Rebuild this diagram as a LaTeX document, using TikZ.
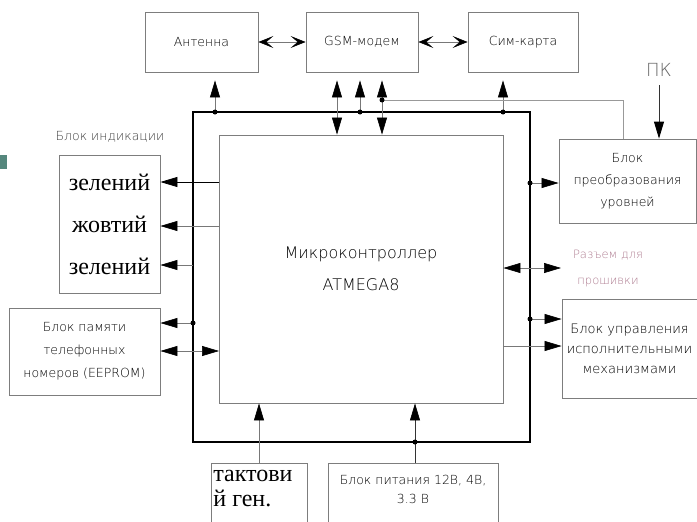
\documentclass[tikz,border=0pt]{standalone}
\usepackage{fontspec}
\setmainfont{DejaVu Sans}
\newfontfamily\gost{DejaVu Sans ExtraLight}
\newfontfamily\serifcyr{Liberation Serif}
\usetikzlibrary{arrows.meta,calc}
\definecolor{boxgray}{RGB}{125,125,125}
\definecolor{linegray}{RGB}{120,120,120}
\definecolor{mauve}{RGB}{175,125,145}
\definecolor{teal}{RGB}{85,135,125}
\begin{document}
\begin{tikzpicture}[x=1pt,y=-1pt,
  blk/.style={draw=boxgray, line width=0.8pt, inner sep=0pt, align=center,
    font=\gost\fontsize{12.5}{22}\selectfont, text=black},
  ln/.style={draw=linegray, line width=0.6pt},
  arr/.style={ln, -{Triangle[length=17pt,width=10pt,color=black]}},
  darr/.style={ln, {Triangle[length=17pt,width=10pt,color=black]}-{Triangle[length=17pt,width=10pt,color=black]}},
  chev/.style={ln, {Stealth[length=15pt,width=12pt,inset=7pt,color=black]}-{Stealth[length=15pt,width=12pt,inset=7pt,color=black]}},
  jdot/.style={circle, fill=black, inner sep=0pt, minimum size=5pt},
  bus/.style={draw=black, line width=2.2pt},
  gap/.style={shorten >=8pt}
]
\useasboundingbox (0,0) rectangle (697,522);
\clip (0,0) rectangle (697,522);
\fill[white] (0,0) rectangle (697,522);

% bus
\coordinate (bTL) at (193,112);
\coordinate (bBR) at (530,442);
\draw[bus] (bTL) rectangle (bBR);

% blocks
\node[blk, minimum width=113pt, minimum height=60pt] (ant) at (201.5,42) {Антенна};
\node[blk, minimum width=112pt, minimum height=60pt] (gsm) at (362,42) {GSM-модем};
\node[blk, minimum width=110pt, minimum height=60pt] (sim) at (523,42) {Сим-карта};
\node[blk, minimum width=284pt, minimum height=268pt, font=\gost\fontsize{16}{32}\selectfont] (mc) at (361,269) {Микроконтроллер\\ATMEGA8};
\node[blk, minimum width=137pt, minimum height=84pt] (preob) at (627.5,181) {Блок\\преобразования\\уровней};
\node[blk, minimum width=135pt, minimum height=99pt, font=\gost\fontsize{13}{20}\selectfont] (upr) at (629.5,348.5) {Блок управления\\исполнительными\\механизмами};
\node[blk, minimum width=101pt, minimum height=138pt, font=\serifcyr\fontsize{24}{42}\selectfont, text=black] (ind) at (109.5,224) {зелений\\жовтий\\зелений};
\node[blk, minimum width=151pt, minimum height=87pt, font=\gost\fontsize{12.5}{23}\selectfont] (mem) at (84.5,351.5) {Блок памяти\\телефонных\\номеров (EEPROM)};
\node[blk, minimum width=96pt, minimum height=80pt] (takt) at (259,503) {};
\node[font=\serifcyr\fontsize{24}{25}\selectfont, align=left, inner sep=0pt] (taktT) at (253,489) {тактови\\й ген.};
\node[blk, minimum width=170pt, minimum height=80pt] (pit) at (413,503) {};
\node[font=\gost\fontsize{12.5}{19}\selectfont, align=center, inner sep=0pt, text=black] (pitT) at (413,489) {Блок питания 12В, 4В,\\3.3 В};

% labels
\node[font=\gost\fontsize{12.5}{14}\selectfont, text=black!75] (indl) at (110,137) {Блок индикации};
\node[font=\gost\fontsize{18}{18}\selectfont, text=black!60] (pk) at (659,70) {ПК};
\node[font=\gost\fontsize{11.5}{26}\selectfont, text=mauve, align=center] (rz) at (608,269) {Разъем для\\прошивки};

% teal mark
\fill[teal] (0,155) rectangle (7,169);

% top connections
\draw[chev] (ant) -- (gsm);
\draw[chev] (gsm) -- (sim);

\coordinate (dA) at (215,112);
\coordinate (g1) at (337,112);
\coordinate (dG) at (360,112);
\coordinate (g3) at (382,112);
\coordinate (dL) at (382,100);
\coordinate (dS) at (503,112);
\coordinate (pX) at (623,100);

\draw[arr,gap] (dA) -- (dA |- ant.south);
\draw[darr,gap] (g1 |- mc.north) -- (g1 |- gsm.south);
\draw[arr,gap] (dG) -- (dG |- gsm.south);
\draw[darr,gap] (g3 |- mc.north) -- (g3 |- gsm.south);
\draw[arr,gap] (dS) -- (dS |- sim.south);
\draw[ln, draw=black!40] (dL) -- (pX) -- (pX |- preob.north);

% right side
\coordinate (pkX) at (659,85);
\draw[arr, line width=0.9pt, draw=black!80] (pkX) -- (pkX |- preob.north);
\coordinate (dP) at (530,183);
\draw[arr] (dP) -- (dP -| preob.west);
\coordinate (rzA) at (561,268);
\draw[darr] (mc.east |- rzA) -- (rzA);
\coordinate (dU) at (530,319);
\draw[arr] (dU) -- (dU -| upr.west);
\coordinate (u2) at (503,346);
\draw[arr] (u2) -- (u2 -| upr.west);

% left side
\coordinate (i1) at (219,182);
\coordinate (i2) at (219,226);
\coordinate (i3) at (193,265);
\draw[arr, draw=black, line width=0.8pt] (i1) -- (i1 -| ind.east);
\draw[arr] (i2) -- (i2 -| ind.east);
\draw[arr] (i3) -- (i3 -| ind.east);
\coordinate (dM) at (193,323);
\draw[arr] (dM) -- (dM -| mem.east);
\coordinate (m2) at (219,351);
\draw[darr] (m2 -| mem.east) -- (m2);

% bottom
\draw[arr] (takt.north) -- (takt.north |- mc.south);
\coordinate (dB) at (415,442);
\draw[arr, draw=black!80] (dB |- pit.north) -- (dB |- mc.south);

% junction dots
\foreach \p in {dA,dG,dL,dS,dP,dU,dM,dB}
  \node[jdot] at (\p) {};
\end{tikzpicture}
\end{document}
